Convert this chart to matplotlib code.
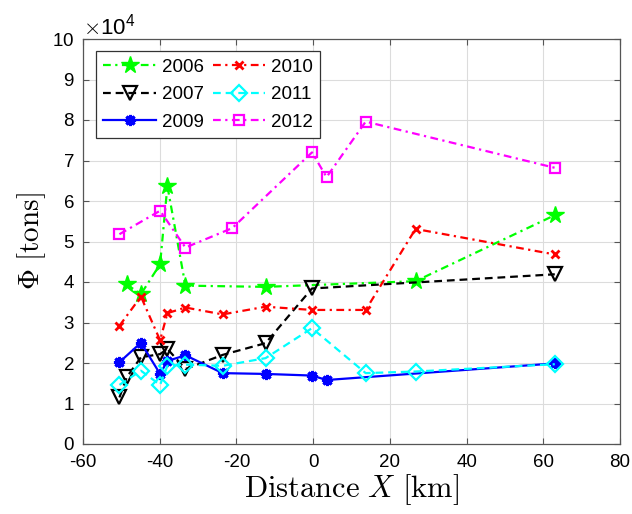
import matplotlib
matplotlib.use("Agg")
import matplotlib.pyplot as plt
from matplotlib.ticker import ScalarFormatter

plt.rcParams['font.family'] = ['Liberation Sans', 'DejaVu Sans']
plt.rcParams['mathtext.fontset'] = 'cm'
plt.rcParams['axes.unicode_minus'] = False

# ---- data (tons) ----
x2006 = [-48.6, -44.9, -39.9, -38.0, -33.3, -12.4, 26.7, 63.0]
y2006 = [39400, 37000, 44400, 63700, 39100, 38800, 40200, 56500]

x2007 = [-50.5, -48.6, -44.9, -39.9, -38.0, -33.3, -23.6, -12.4, -0.3, 63.0]
y2007 = [11500, 16500, 21400, 22200, 23500, 18500, 22000, 24900, 38400, 41900]

x2009 = [-50.5, -44.9, -39.9, -38.0, -33.3, -23.6, -12.4, -0.3, 3.5, 63.0]
y2009 = [20200, 25000, 17300, 20500, 21900, 17500, 17300, 16900, 15800, 19900]

x2010 = [-50.5, -44.9, -39.9, -38.0, -33.3, -23.6, -12.4, -0.3, 13.7, 26.7, 63.0]
y2010 = [29200, 36400, 25600, 32300, 33700, 32000, 33900, 33100, 33100, 53100, 46800]

x2011 = [-50.5, -44.9, -39.9, -38.0, -33.3, -23.6, -12.4, -0.3, 13.7, 26.7, 63.0]
y2011 = [14600, 18100, 14600, 19300, 19600, 19300, 21200, 28600, 17500, 17900, 19700]

x2012 = [-50.5, -39.9, -33.3, -21.1, -0.3, 3.5, 13.7, 63.0]
y2012 = [51800, 57600, 48500, 53300, 72000, 65900, 79600, 68200]

years = ['2006', '2007', '2009', '2010', '2011', '2012']
xticks = [-60, -40, -20, 0, 20, 40, 60, 80]
yticks = [0, 1e4, 2e4, 3e4, 4e4, 5e4, 6e4, 7e4, 8e4, 9e4, 10e4]

fig = plt.figure(figsize=(6.32, 5.14), dpi=100)
ax = fig.add_axes([83/632, 1-444/514, 537/632, 405/514])

lw = 1.6
dashdot = (0, (3.5, 2, 1, 2))
dashed = (0, (3.5, 2.2))
ax.plot(x2006, y2006, linestyle=dashdot, color=(0, 1, 0), lw=lw, marker='*',
        ms=13, mfc=(0, 1, 0), mec=(0, 1, 0), label=years[0])
ax.plot(x2007, y2007, linestyle=dashed, color='k', lw=lw, marker='v',
        ms=10, mfc='none', mec='k', mew=1.6, label=years[1])
ax.plot(x2009, y2009, linestyle='-', color=(0, 0, 1), lw=lw, marker=(8, 2, 0),
        ms=8, mec=(0, 0, 1), mew=2.2, label=years[2])
ax.plot(x2010, y2010, linestyle=dashdot, color=(1, 0, 0), lw=lw, marker='x',
        ms=6, mec=(1, 0, 0), mew=2.0, label=years[3])
ax.plot(x2011, y2011, linestyle=dashed, color=(0, 1, 1), lw=lw, marker='D',
        ms=8, mfc='none', mec=(0, 1, 1), mew=1.6, label=years[4])
ax.plot(x2012, y2012, linestyle=dashdot, color=(1, 0, 1), lw=lw, marker='s',
        ms=7, mfc='none', mec=(1, 0, 1), mew=1.6, label=years[5])

ax.set_xlim(-60, 80)
ax.set_ylim(0, 1e5)
ax.set_xticks(xticks)
ax.set_yticks(yticks)
fmt = ScalarFormatter(useMathText=True)
fmt.set_powerlimits((4, 4))
ax.yaxis.set_major_formatter(fmt)
ax.yaxis.get_offset_text().set_fontsize(16)

ax.grid(True, color='#dcdcdc', lw=0.8)
ax.set_axisbelow(True)
ax.tick_params(direction='in', top=True, right=True, labelsize=13.5,
               length=4, color='#555555', width=0.8)
ax.tick_params(axis='x', pad=7)
ax.tick_params(axis='y', pad=6)
for s in ax.spines.values():
    s.set_color('#555555')
    s.set_linewidth(0.9)

ax.set_xlabel(r'$\mathrm{Distance}\ X\ \mathrm{[km]}$', fontsize=22, labelpad=1)
ax.set_ylabel(r'$\Phi\ \mathrm{[tons]}$', fontsize=21, labelpad=3)

leg = ax.legend(ncol=2, loc='upper left', fontsize=13.5, handlelength=2.8,
                columnspacing=0.5, handletextpad=0.3, labelspacing=0.55,
                borderpad=0.4, borderaxespad=0, fancybox=False, framealpha=1,
                edgecolor='#333333', bbox_to_anchor=(0.024, 0.970))
leg.get_frame().set_linewidth(0.9)

fig.savefig('out.png', dpi=100)
